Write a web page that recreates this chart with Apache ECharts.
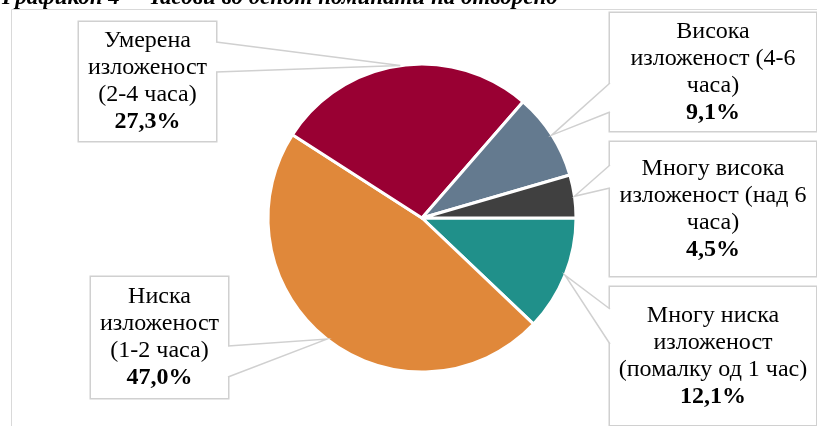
<!DOCTYPE html>
<html>
<head>
<meta charset="utf-8">
<script src="https://cdn.jsdelivr.net/npm/echarts@6/dist/echarts.min.js"></script>
<style>
html,body{margin:0;padding:0;background:#fff;}
#c{width:817px;height:426px;}
</style>
</head>
<body>
<div id="c"></div>
<script>
// ---- data ----
var titleText = 'Графикон 4 – Часови во денот поминати на отворено';
var categories = [
  'Многу ниска\nизложеност\n(помалку од 1 час)',
  'Ниска\nизложеност\n(1-2 часа)',
  'Умерена\nизложеност\n(2-4 часа)',
  'Висока\nизложеност (4-6\nчаса)',
  'Многу висока\nизложеност (над 6\nчаса)'
];
var values = [12.1, 47.0, 27.3, 9.1, 4.5];
var colors = ['#20908a', '#e0883a', '#990033', '#647a8f', '#404040'];

// ---- layout of the callout boxes (styles, not data) ----
var boxes = [
  {x: 610, y: 287, w: 206, h: 138, side: 'left', b1: 22, b2: 57},
  {x: 91,  y: 277, w: 137, h: 121, side: 'right', b1: 69, b2: 100},
  {x: 79,  y: 22,  w: 137, h: 119, side: 'right', b1: 20, b2: 50},
  {x: 610, y: 13,  w: 206, h: 118, side: 'left', b1: 70, b2: 99},
  {x: 610, y: 142, w: 206, h: 134, side: 'left', b1: 23, b2: 46}
];
var FONT = '"Liberation Serif", "Times New Roman", serif';
var FS = 24, LH = 27;
var BORDER = '#d0d0d0';

function fmt(v){ return v.toFixed(1).replace('.', ',') + '%'; }

var chart = echarts.init(document.getElementById('c'), null, {renderer: 'canvas'});

var seriesData = categories.map(function(name, i){
  var b = boxes[i];
  var lines = name.split('\n').length + 1;
  var pad = (b.h - lines * LH) / 2;
  return {
    name: name,
    value: values[i],
    itemStyle: {color: colors[i]},
    label: {
      width: b.w,
      padding: [pad, 0, pad, 0]
    }
  };
});

var baseGraphic = [
  {type: 'rect', z: -10, silent: true,
   shape: {x: 11.5, y: 9.5, width: 830, height: 440},
   style: {fill: '#fff', stroke: '#d9d9d9', lineWidth: 1}},
  {type: 'text', z: 50, silent: true, x: 2, y: 10,
   style: {text: titleText, font: 'italic bold 23px ' + FONT, fill: '#000', verticalAlign: 'bottom', align: 'left'}}
];

chart.setOption({
  animation: false,
  backgroundColor: '#fff',
  graphic: baseGraphic,
  series: [{
    type: 'pie',
    center: [422, 218],
    radius: 154,
    startAngle: 0,
    clockwise: true,
    avoidLabelOverlap: false,
    itemStyle: {borderColor: '#fff', borderWidth: 3},
    label: {
      show: true,
      position: 'outside',
      formatter: function(p){
        var ls = p.name.split('\n').map(function(s){ return '{t|' + s + '}'; });
        ls.push('{b|' + fmt(p.value) + '}');
        return ls.join('\n');
      },
      backgroundColor: '#fff',
      borderColor: BORDER,
      borderWidth: 1.5,
      align: 'center',
      rich: {
        t: {fontFamily: FONT, fontSize: FS, lineHeight: LH, color: '#000', align: 'center'},
        b: {fontFamily: FONT, fontSize: FS, lineHeight: LH, color: '#000', fontWeight: 'bold', align: 'center'}
      }
    },
    labelLine: {show: false},
    labelLayout: function(p){
      var b = boxes[p.dataIndex];
      return {x: b.x + b.w / 2, y: b.y + b.h / 2, align: 'center', verticalAlign: 'middle'};
    },
    emphasis: {disabled: true},
    data: seriesData
  }]
});

// callout wedges: tip at the middle of each slice's outer arc (from the pie's own layout)
(function(){
  var data = chart.getModel().getSeriesByIndex(0).getData();
  var g = [];
  for (var i = 0; i < data.count(); i++) {
    var l = data.getItemLayout(i);
    var mid = (l.startAngle + l.endAngle) / 2;
    var tip = [l.cx + l.r * Math.cos(mid), l.cy + l.r * Math.sin(mid)];
    var b = boxes[i];
    var ex = b.side === 'left' ? b.x : b.x + b.w;
    var p1 = [ex, b.y + b.b1], p2 = [ex, b.y + b.b2];
    g.push({type: 'polygon', z: 100, silent: true,
      shape: {points: [p1, tip, p2]}, style: {fill: '#fff', stroke: null}});
    g.push({type: 'line', z: 101, silent: true,
      shape: {x1: ex, y1: p1[1] + 1, x2: ex, y2: p2[1] - 1}, style: {stroke: '#fff', lineWidth: 3}});
    g.push({type: 'polyline', z: 102, silent: true,
      shape: {points: [p1, tip, p2]}, style: {fill: null, stroke: BORDER, lineWidth: 1.5}});
  }
  chart.setOption({graphic: baseGraphic.concat(g)}, {replaceMerge: ['graphic']});
})();
</script>
</body>
</html>
